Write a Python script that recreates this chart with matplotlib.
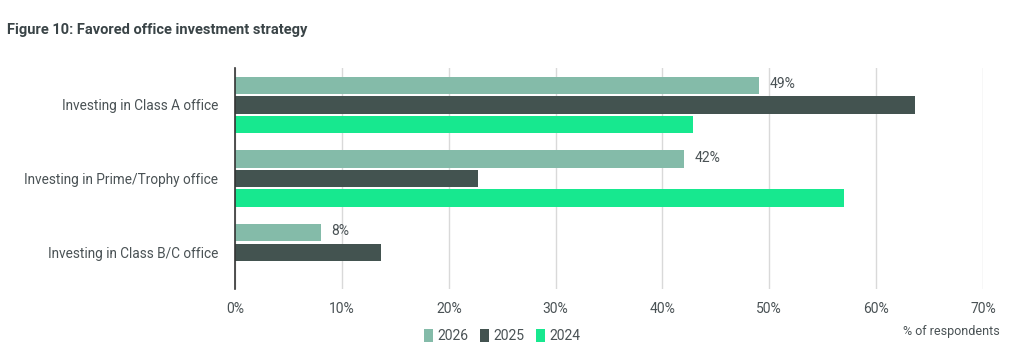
import matplotlib
matplotlib.use("Agg")
import matplotlib.pyplot as plt
import numpy as np

plt.rcParams['font.family'] = ['Roboto', 'DejaVu Sans']

categories = ["Investing in Class A office", "Investing in Prime/Trophy office", "Investing in Class B/C office"]
series_names = ["2026", "2025", "2024"]
v2026 = [49, 42, 8]
v2025 = [63.6, 22.7, 13.7]
v2024 = [42.9, 57.0, 0]
label_2026 = ["49%", "42%", "8%"]
xticks = [0, 10, 20, 30, 40, 50, 60, 70]
xtick_labels = ["0%", "10%", "20%", "30%", "40%", "50%", "60%", "70%"]

colors = ["#84BBA9", "#435350", "#17E88F"]
text_color = "#4a5255"

fig = plt.figure(figsize=(10.31, 3.61), dpi=100)
ax = fig.add_axes([0.228, 0.1994, 0.9534 - 0.228, 0.8116 - 0.1994])

y = np.arange(len(categories))
pitch = 0.2635
h = 0.235
for i, (vals, col, name) in enumerate(zip([v2026, v2025, v2024], colors, series_names)):
    ax.barh(y + (i - 1) * pitch, vals, height=h, color=col, label=name, zorder=3)

for yi, v, lab in zip(y, v2026, label_2026):
    ax.text(v + 1.0, yi - pitch - 0.02, lab, va='center', ha='left', fontsize=10, color=text_color)

ax.set_xlim(0, 70)
ax.set_ylim(2.5, -0.5)
ax.set_xticks(xticks)
ax.set_xticklabels(xtick_labels)
ax.set_yticks(y)
ax.set_yticklabels(categories)
ax.tick_params(axis='both', length=0, labelsize=10, colors=text_color)
ax.tick_params(axis='y', pad=12, labelsize=9.8)
ax.tick_params(axis='x', pad=9)
ax.grid(axis='x', color='#d9d9d9', linewidth=1, zorder=0)
for s in ['top', 'right', 'bottom']:
    ax.spines[s].set_visible(False)
ax.spines['left'].set_color('#333333')
ax.spines['left'].set_linewidth(1.2)
ax.spines['left'].set_zorder(4)

fig.text(0.007, 0.917, "Figure 10: Favored office investment strategy", fontsize=10.5,
         fontweight='bold', color='#3a4447', ha='left', va='center')
fig.text(0.97, 0.083, "% of respondents", fontsize=9, color=text_color, ha='right', va='center')

leg = fig.legend(loc='center', bbox_to_anchor=(0.487, 0.068), ncol=3, frameon=False,
                 fontsize=10, handlelength=0.7, handleheight=1.0, handletextpad=0.3,
                 columnspacing=0.8, labelcolor=text_color)

fig.savefig("out.png", dpi=100)
